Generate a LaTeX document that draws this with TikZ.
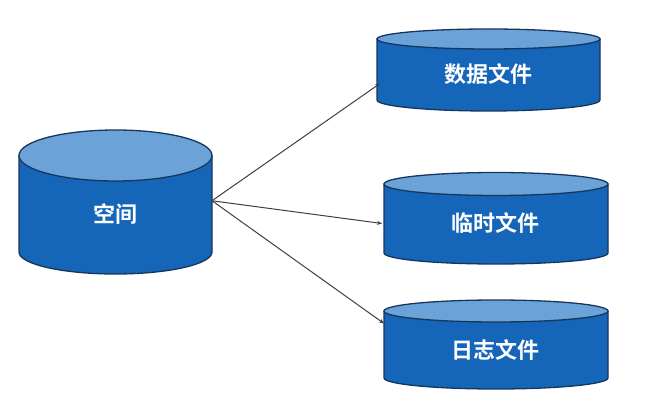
\documentclass[tikz,border=0pt]{standalone}
\usepackage{fontspec}
\setmainfont{Noto Sans CJK SC}[BoldFont={Noto Sans CJK SC Bold}]
\usetikzlibrary{arrows.meta}
\definecolor{bodyblue}{HTML}{1565B8}
\definecolor{topblue}{HTML}{6BA3D8}
\definecolor{edgeblue}{HTML}{17365D}
\definecolor{linkgrey}{HTML}{404040}
\tikzset{
  x=1pt,y=1pt,
  cylbody/.style={fill=bodyblue,draw=edgeblue,line width=1.3pt},
  cyltop/.style={fill=topblue,draw=edgeblue,line width=1.3pt},
  cylanchor/.style={inner sep=0pt,outer sep=0pt,rectangle},
  cyllabel/.style={text=white,font=\fontsize{22}{26}\selectfont\bfseries,inner sep=0pt},
  link/.style={draw=linkgrey,line width=1pt,-{Stealth[length=5pt,width=4pt]}}
}
% name, left x, right x, y of top ellipse centre, top radius, y of bottom ellipse centre, bottom radius, label x, label y, text
\newcommand{\dbcyl}[9]{%
  \path[cylbody] ({#2},{418-#4}) -- ({#2},{418-#6})
    arc[start angle=180,end angle=360,x radius={(#3-#2)/2},y radius=#7]
    -- ({#3},{418-#4}) -- cycle;
  \path[cyltop] ({(#2+#3)/2},{418-#4}) ellipse [x radius={(#3-#2)/2},y radius=#5];
  \node[cylanchor,minimum width={(#3-#2)*1pt},minimum height={(#6-#4)*1pt}] (#1)
    at ({(#2+#3)/2},{418-(#4+#6)/2}) {};
  \node[cyllabel] (#1text) at (#8,{418-#9}) {\dbtext};
}
\begin{document}
\begin{tikzpicture}
\useasboundingbox (0,0) rectangle (661,418);
\fill[white] (0,0) rectangle (661,418);
\def\dbtext{空间}\dbcyl{space}{19}{212}{155.5}{25.5}{252}{22}{115}{214}
\def\dbtext{数据文件}\dbcyl{data}{377}{600}{39}{10}{100}{11}{488}{74}
\def\dbtext{临时文件}\dbcyl{temp}{384}{608}{184}{11.5}{253}{11}{495}{223}
\def\dbtext{日志文件}\dbcyl{log}{384}{608}{311}{11}{378}{11}{495}{350}
\draw[link] ([yshift=3pt]space.east) -- ([xshift=3pt,yshift=-14pt]data.west);
\draw[link] ([yshift=3pt]space.east) -- ([xshift=-2pt,yshift=-5pt]temp.west);
\draw[link] ([yshift=3pt]space.east) -- ([yshift=21pt]log.west);
\end{tikzpicture}
\end{document}
